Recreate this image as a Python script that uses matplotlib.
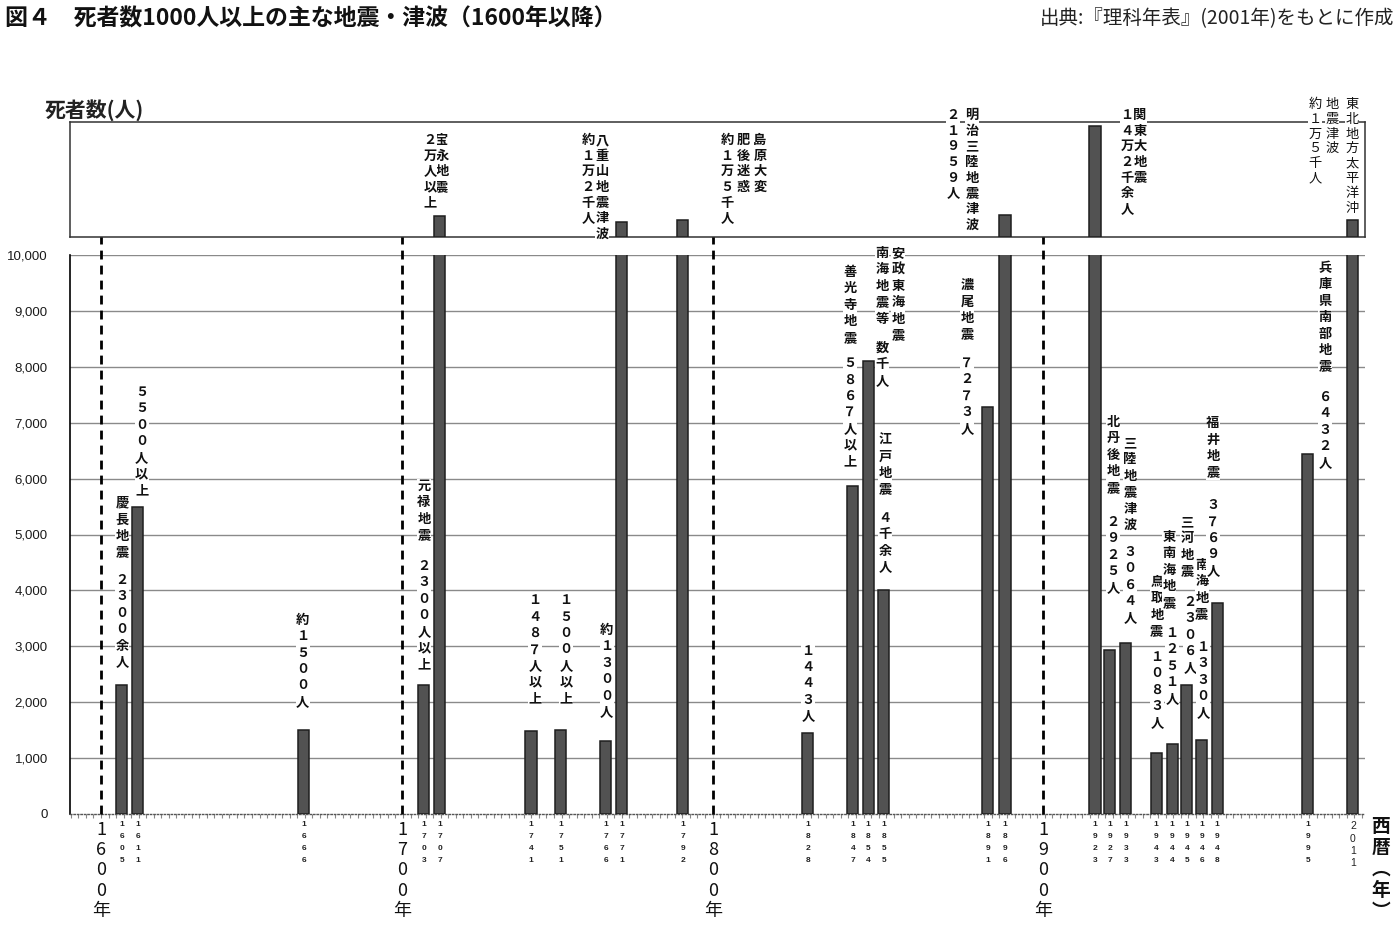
import numpy as np
import matplotlib
matplotlib.use("Agg")
import matplotlib.pyplot as plt
from matplotlib.ticker import MultipleLocator
from matplotlib.transforms import blended_transform_factory

plt.rcParams['font.family'] = ['Noto Sans CJK JP', 'DejaVu Sans']

# ---------------- data ----------------
years = [1605, 1611, 1666, 1703, 1707, 1741, 1751, 1766, 1771, 1792, 1828,
         1847, 1854, 1855, 1891, 1896, 1923, 1927, 1933, 1943, 1944, 1945,
         1946, 1948, 1995, 2011]
deaths = [2300, 5500, 1500, 2300, 20000, 1487, 1500, 1300, 12000, 15000, 1443,
          5867, 8100, 4000, 7273, 21959, 142000, 2925, 3064, 1083, 1251, 2306,
          1330, 3769, 6432, 15000]
# position of each event on the chart's compressed timeline (slot units)
pos = [1.39, 2.45, 13.44, 21.39, 22.45, 28.48, 30.46, 33.44, 34.50, 38.54, 46.82,
       49.80, 50.80, 51.85, 58.74, 59.87, 65.83, 66.82, 67.88, 69.87, 70.93, 71.92,
       72.91, 73.91, 79.93, 82.91]
century_years = [1600, 1700, 1800, 1900]
century_pos = [0.0, 19.93, 40.53, 62.38]
yticks = [0, 1000, 2000, 3000, 4000, 5000, 6000, 7000, 8000, 9000, 10000]
ytick_labels = ["0", "1,000", "2,000", "3,000", "4,000", "5,000", "6,000",
                "7,000", "8,000", "9,000", "10,000"]
BREAK = 10000

# ---------------- figure ----------------
W, H = 1400, 933
fig = plt.figure(figsize=(W / 100, H / 100), dpi=100)
fig.patch.set_facecolor("white")

def fx(px):
    return px / W

def fy(py):
    return 1 - py / H

XL = (-2.05, 83.71)
axL = fig.add_axes([fx(70), fy(814), fx(1365) - fx(70), fy(255) - fy(814)])
axU = fig.add_axes([fx(70), fy(237), fx(1365) - fx(70), fy(122) - fy(237)])

U_LO, U_HI = -8500, 147300

bar_w = 0.73
face = "#525252"
edge = "#1e1e1e"

# lower panel
axL.bar(pos, deaths, width=bar_w, color=face, edgecolor=edge, linewidth=1.1, zorder=7)
axL.set_xlim(*XL)
axL.set_ylim(0, BREAK)
axL.set_yticks(yticks)
axL.set_yticklabels(ytick_labels, family=['Liberation Sans', 'DejaVu Sans'],
                    fontsize=9.5, color="#1a1a1a")
axL.tick_params(axis='y', length=0, pad=16)
axL.set_xticks([])
axL.xaxis.set_minor_locator(MultipleLocator(0.5))
axL.tick_params(axis='x', which='minor', length=3, color="#888888", width=0.8)
for s in ['top', 'right']:
    axL.spines[s].set_visible(False)
axL.spines['left'].set_linewidth(1.2)
axL.spines['bottom'].set_linestyle((0, (1, 1.5)))
axL.spines['bottom'].set_color("#555555")
axL.spines['bottom'].set_linewidth(1.0)
for v in yticks[1:]:
    axL.axhline(v, color="#8a8a8a", lw=1.0, zorder=0)

# upper panel
big_pos = [p for p, d in zip(pos, deaths) if d > BREAK]
big_val = [d for d in deaths if d > BREAK]
axU.bar(big_pos, np.array(big_val) - U_LO, bottom=U_LO, width=bar_w,
        color=face, edgecolor=edge, linewidth=1.1, zorder=7)
axU.set_xlim(*XL)
axU.set_ylim(U_LO, U_HI)
axU.set_xticks([])
axU.set_yticks([])
for s in axU.spines.values():
    s.set_linewidth(1.1)
    s.set_color("#333333")

# century dashed lines spanning both panels
for cp in century_pos:
    axL.axvline(cp, ymin=0, ymax=(814 - 122) / (814 - 255), color="black",
                lw=2.0, ls=(0, (3.2, 2.2)), clip_on=False, zorder=8)

# ---------------- text helpers ----------------
def vtext(ax, s, x, y, size=9.5, weight='bold', ls=1.22, **kw):
    ax.text(x, y, "\n".join(s), ha='center', va='top', fontsize=size,
            fontweight=weight, linespacing=ls, color="#111111", zorder=5,
            clip_on=False,
            bbox=dict(facecolor='white', edgecolor='none', pad=0.3), **kw)

lower_labels = [
    ("慶長地震", 1.40, 5690), ("２３００余人", 1.40, 4310),
    ("５５００人以上", 2.70, 7675),
    ("約１５００人", 13.35, 3600),
    ("元禄地震", 21.39, 5993), ("２３００人以上", 21.39, 4562),
    ("１４８７人以上", 28.74, 3950),
    ("１５００人以上", 30.79, 3950),
    ("約１３００人", 33.50, 3420),
    ("１４４３人", 46.82, 3050),
    ("善光寺地震", 49.60, 9821), ("５８６７人以上", 49.60, 8193),
    ("安政東海地震", 52.78, 10161), ("南海地震等", 51.72, 10161),
    ("数千人", 51.72, 8462),
    ("江戸地震", 51.92, 6816), ("４千余人", 51.92, 5420),
    ("濃尾地震", 57.35, 9589), ("７２７３人", 57.35, 8193),
    ("北丹後地震", 67.02, 7138), ("２９２５人", 67.02, 5349),
    ("三陸地震津波", 68.15, 6762), ("３０６４人", 68.15, 4812),
    ("鳥取地震", 69.93, 4275), ("１０８３人", 69.93, 2934),
    ("東南海地震", 70.73, 5080), ("１２５１人", 70.93, 3363),
    ("三河地震", 71.92, 5349), ("２３０６人", 72.12, 3918),
    ("南海地震", 72.91, 4580), ("１３３０人", 72.98, 3113),
    ("福井地震", 73.64, 7120), ("３７６９人", 73.64, 5653),
    ("兵庫県南部地震", 81.06, 9893), ("６４３２人", 81.06, 7585),
]
for s, x, y in lower_labels:
    vtext(axL, s, x, y)

upper_labels = [
    ("宝永地震", 22.58, 132400), ("２万人以上", 21.79, 132400),
    ("八重山地震津波", 33.18, 132400), ("約１万２千人", 32.25, 132400),
    ("島原大変", 43.64, 132400), ("肥後迷惑", 42.52, 132400),
    ("約１万５千人", 41.46, 132400),
    ("明治三陸地震津波", 57.68, 166300), ("２１９５９人", 56.42, 166300),
    ("関東大地震", 68.81, 166300), ("１４万２千余人", 67.95, 166300),
]
for s, x, y in upper_labels:
    vtext(axU, s, x, y, ls=1.15)

for s, x in [("東北地方太平洋沖", 82.85), ("地震津波", 81.52), ("約１万５千人", 80.40)]:
    vtext(axU, s, x, 179800, size=9.5, weight='normal', ls=1.18)

# year labels under bars
trL = blended_transform_factory(axL.transData, axL.transAxes)
for y, p in zip(years, pos):
    modern = y > 2000
    axL.text(p, -0.013, "\n".join(str(y)), transform=trL, ha='center', va='top',
             fontsize=7.5 if modern else 6.0,
             fontweight='normal' if modern else 'bold',
             linespacing=1.3 if modern else 1.95,
             family=['Liberation Sans', 'DejaVu Sans'], color="#222222",
             clip_on=False)

# century labels
for cy, cp in zip(century_years, century_pos):
    axL.text(cp, -0.012, "\n".join(str(cy) + "年"), transform=trL, ha='center',
             va='top', fontsize=13, linespacing=1.17, color="#111111", clip_on=False)

# axis names
axL.text(84.75, -0.005, "西\n暦\n︵\n年\n︶", transform=trL, ha='center', va='top',
         fontsize=13.5, fontweight='bold', linespacing=1.15, color="#111111",
         clip_on=False)
fig.text(fx(45), fy(110), "死者数(人)", ha='left', va='center', fontsize=15,
         fontweight='bold', color="#222222")

# title and source
fig.text(fx(5), fy(19), "図４　死者数1000人以上の主な地震・津波（1600年以降）",
         ha='left', va='center', fontsize=16.5, fontweight='bold', color="#111111")
fig.text(fx(1394), fy(19), "出典:『理科年表』(2001年)をもとに作成",
         ha='right', va='center', fontsize=14, color="#222222")

fig.savefig("out.png", dpi=100, facecolor="white")
